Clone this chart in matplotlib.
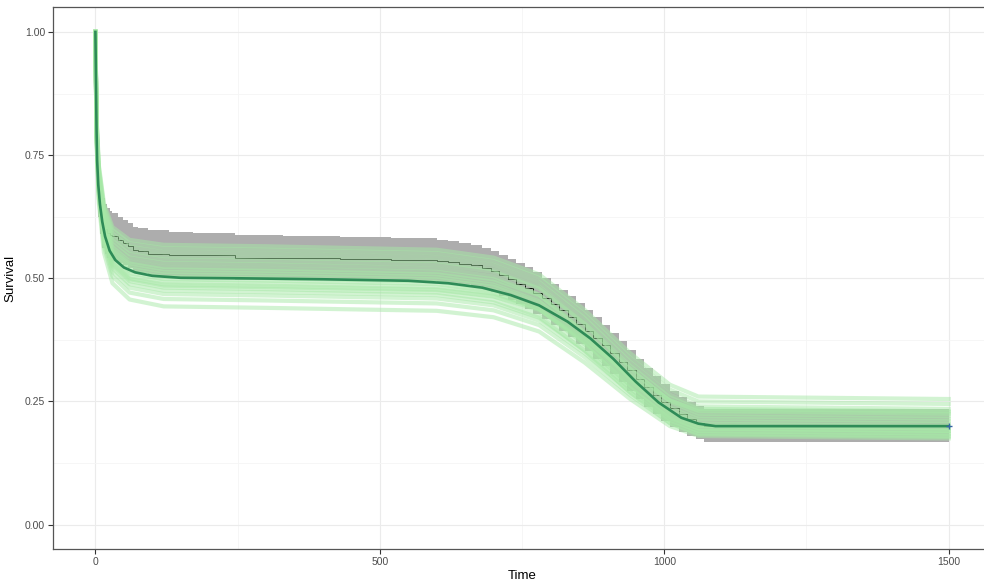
import numpy as np
import matplotlib.pyplot as plt
from matplotlib.ticker import MultipleLocator

plt.rcParams['font.family'] = ['Liberation Sans', 'DejaVu Sans']

# Kaplan-Meier estimate with its confidence band (step functions)
km_time = [0, 1, 2, 3, 5, 8, 12, 16, 20, 25, 30, 40, 48, 57, 66, 75, 92, 130, 171, 245, 330,
           430, 520,
           600, 620, 640, 660, 680, 695, 710, 725, 740, 755, 770, 785, 800, 815, 830, 845, 860,
           875, 890, 905, 920, 935, 950, 965, 980, 995, 1010, 1025, 1040, 1055, 1070, 1500]
km_surv = [1.0, .88, .78, .72, .675, .64, .612, .60, .592, .588, .585, .578, .572, .565, .558,
           .556, .55, .548, .547, .542, .541, .540, .538,
           .535, .533, .530, .526, .520, .514, .506, .498, .489, .480, .470, .459, .447, .435,
           .422, .408, .394, .379, .364, .348, .331, .313, .296, .279, .263, .249, .236, .224,
           .214, .206, .20, .20]
km_upper = [1.0, .93, .84, .77, .725, .69, .662, .65, .642, .637, .632, .625, .618, .612, .605,
            .602, .597, .594, .592, .587, .585, .584, .582,
            .577, .575, .572, .568, .562, .556, .548, .540, .531, .522, .512, .501, .489, .477,
            .464, .450, .436, .421, .405, .389, .372, .354, .336, .318, .301, .286, .272, .259,
            .249, .241, .235, .235]
km_lower = [1.0, .83, .72, .67, .625, .59, .562, .55, .542, .538, .535, .531, .526, .52, .513,
            .51, .505, .502, .502, .497, .497, .496, .494,
            .493, .491, .488, .484, .478, .472, .464, .456, .447, .438, .428, .417, .405, .393,
            .380, .366, .352, .337, .322, .306, .289, .272, .255, .239, .224, .211, .199, .188,
            .180, .173, .167, .167]

# posterior survival draws, all on the same time grid
draw_time = [0, 2, 6, 15, 30, 60, 120, 300, 600, 700, 780, 860, 940, 1010, 1060, 1500]
draws = [
    [1, .776, .653, .552, .490, .457, .443, .440, .434, .421, .392, .329, .255, .200, .180, .175],
    [1, .782, .662, .564, .504, .471, .458, .455, .449, .435, .405, .340, .263, .206, .185, .180],
    [1, .786, .668, .572, .513, .481, .468, .465, .459, .445, .414, .348, .269, .211, .190, .185],
    [1, .789, .673, .578, .520, .488, .475, .472, .466, .451, .420, .354, .275, .216, .195, .190],
    [1, .791, .676, .582, .525, .494, .481, .478, .471, .456, .423, .353, .268, .206, .183, .178],
    [1, .794, .681, .588, .531, .500, .488, .485, .478, .464, .432, .364, .282, .222, .200, .195],
    [1, .796, .684, .592, .536, .505, .493, .490, .483, .469, .438, .371, .291, .232, .210, .205],
    [1, .798, .687, .596, .540, .510, .498, .495, .488, .472, .438, .366, .278, .214, .190, .185],
    [1, .802, .693, .604, .550, .520, .508, .505, .498, .483, .451, .382, .299, .237, .215, .210],
    [1, .804, .696, .608, .554, .525, .513, .510, .503, .487, .453, .381, .293, .229, .205, .200],
    [1, .806, .699, .612, .559, .530, .518, .515, .508, .493, .460, .390, .305, .243, .220, .215],
    [1, .808, .702, .616, .563, .534, .523, .520, .513, .498, .466, .397, .314, .252, .230, .225],
    [1, .811, .707, .622, .570, .542, .531, .528, .520, .504, .467, .389, .295, .226, .201, .195],
    [1, .814, .712, .628, .577, .549, .538, .535, .528, .513, .479, .408, .322, .258, .235, .230],
    [1, .817, .716, .634, .583, .556, .545, .542, .535, .518, .483, .408, .317, .250, .225, .220],
    [1, .820, .721, .640, .591, .564, .553, .550, .543, .527, .492, .419, .330, .264, .240, .235],
    [1, .823, .726, .646, .598, .571, .561, .558, .551, .535, .501, .427, .339, .274, .250, .245],
    [1, .826, .730, .652, .604, .578, .568, .565, .558, .542, .508, .436, .348, .284, .260, .255],
    [1, .800, .690, .600, .545, .515, .503, .500, .493, .477, .443, .371, .283, .219, .195, .190],
    [1, .793, .679, .586, .529, .498, .485, .482, .476, .463, .436, .376, .304, .252, .232, .228],
]

# posterior mean survival
mean_time = [0, 1, 2, 3, 5, 8, 12, 17, 25, 35, 50, 70, 100, 150, 250, 400, 550, 620, 680, 730,
             780, 830, 870, 910, 950, 990, 1030, 1060, 1090, 1500]
mean_surv = [1.0, .90, .80, .74, .69, .65, .615, .585, .556, .537, .522, .512, .505, .501, .50,
             .498, .495, .490, .481, .466, .445, .412, .378, .337, .29, .248, .217, .205, .20, .20]

censor_time = [1500]
censor_surv = [0.20]

fig = plt.figure(figsize=(9.84, 5.86), dpi=100)
ax = fig.add_axes([0.0536, 0.0626, 0.9539, 0.925])

ax.fill_between(km_time, km_lower, km_upper, step='post', color='#ADADAD', lw=0, zorder=2)
ax.step(km_time, km_surv, where='post', color='black', lw=0.7, zorder=3)
for d in draws:
    ax.plot(draw_time, d, color='#A6E8A6', alpha=0.5, lw=3.0, zorder=4)
ax.plot(mean_time, mean_surv, color='#2E8B57', lw=1.9, zorder=5)
ax.plot(censor_time, censor_surv, ls='none', marker='+', ms=5, mew=1.0,
        color='#3465A4', zorder=6)

ax.set_xlim(-75, 1575)
ax.set_ylim(-0.05, 1.05)
ax.xaxis.set_major_locator(MultipleLocator(500))
ax.xaxis.set_minor_locator(MultipleLocator(250))
ax.yaxis.set_major_locator(MultipleLocator(0.25))
ax.yaxis.set_minor_locator(MultipleLocator(0.125))
ax.set_yticklabels([f'{v:.2f}' for v in ax.get_yticks()])

ax.grid(True, which='major', color='#EBEBEB', lw=0.8, zorder=0)
ax.grid(True, which='minor', color='#F5F5F5', lw=0.6, zorder=0)
ax.set_axisbelow(True)

for side in ['top', 'left', 'bottom', 'right']:
    ax.spines[side].set_color('#555555')
    ax.spines[side].set_linewidth(0.9)

ax.tick_params(which='major', length=3.5, width=0.8, color='#333333',
               labelcolor='#4D4D4D', labelsize=7.5, pad=2)
ax.tick_params(which='minor', length=0)

ax.set_xlabel('Time', fontsize=9.5, labelpad=2)
ax.set_ylabel('Survival', fontsize=9.5, labelpad=6)

fig.savefig('out.png', dpi=100)
